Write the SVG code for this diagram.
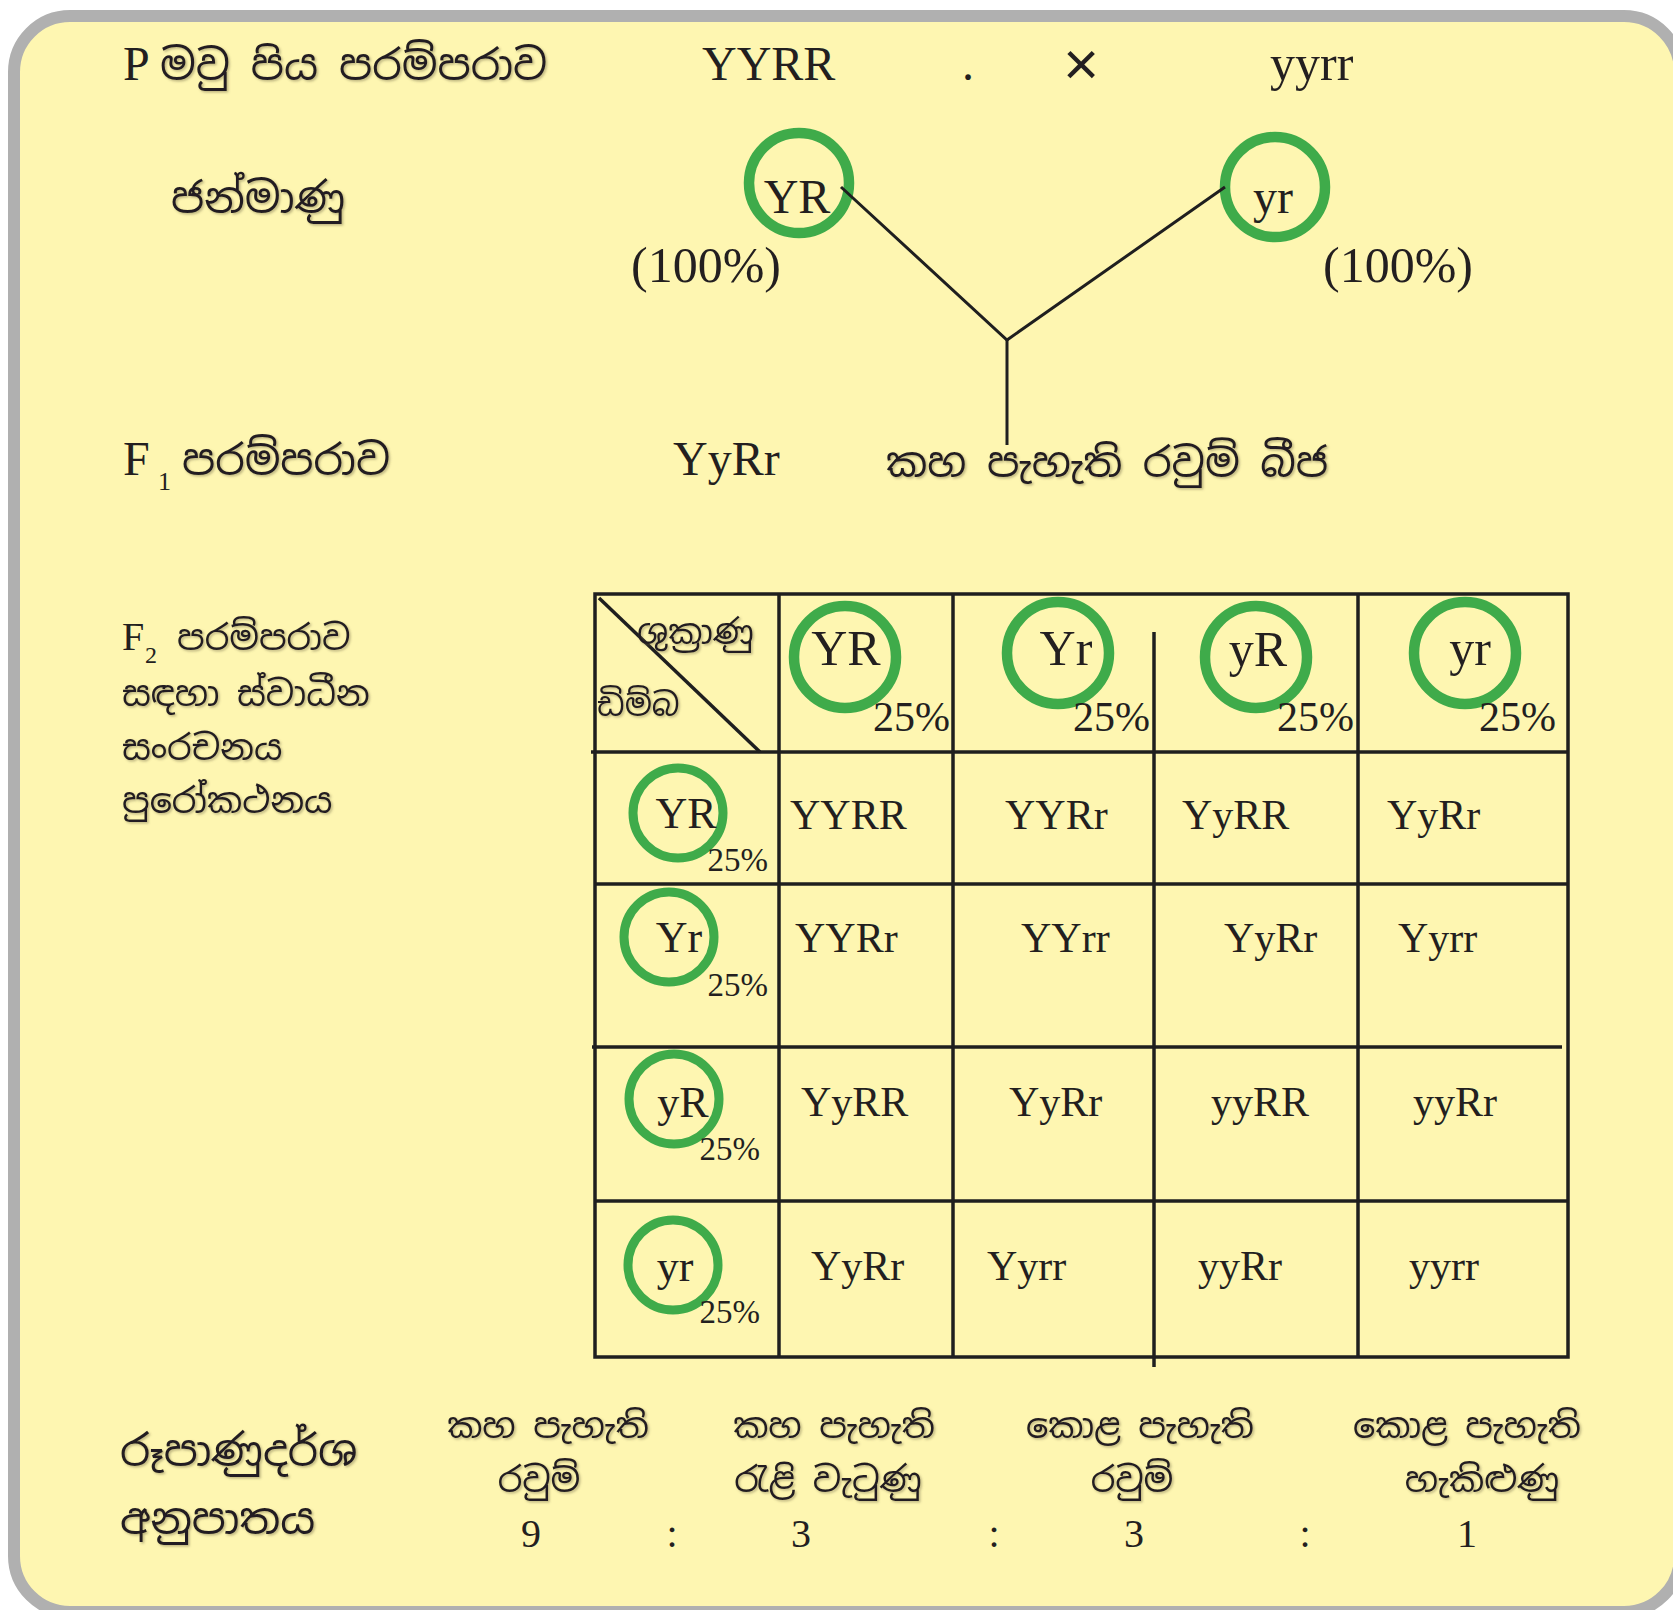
<svg xmlns="http://www.w3.org/2000/svg" width="1673" height="1610" viewBox="0 0 1673 1610">
<defs>
<filter id="sh" x="-5%" y="-20%" width="110%" height="140%">
<feDropShadow dx="1.5" dy="1.5" stdDeviation="0.8" flood-color="#6b6440" flood-opacity="0.45"/>
</filter>
</defs>
<style>
.lat{font-family:"Liberation Serif","Times New Roman",serif;fill:#231f20}
.sin{font-family:"Noto Sans Sinhala","Noto Serif Sinhala","Iskoola Pota","Noto Sans",sans-serif;fill:#231f20;filter:url(#sh)}
.sym{font-family:"Liberation Sans","DejaVu Sans",sans-serif;fill:#231f20}
.ring{fill:none;stroke:#3fab4a;stroke-width:10.5}
.ring2{fill:none;stroke:#3fab4a;stroke-width:9}
.grid{stroke:#1f1f1f;stroke-width:3.5;fill:none}
.wire{stroke:#1f1f1f;stroke-width:3;fill:none}
.g48{font-size:48px}
.g50{font-size:50px}
.g42{font-size:42px}
.s42{font-size:42px}
.s35{font-size:35px}
.pc{font-size:42px;text-anchor:end}
.pcs{font-size:33px;text-anchor:end}
.mid{text-anchor:middle}
.num{font-size:40px;text-anchor:middle}
</style>
<rect width="1673" height="1610" fill="#ffffff"/>
<rect x="14" y="16" width="1666" height="1596" rx="56" fill="#fef6b1" stroke="#b0b0b0" stroke-width="12"/>

<g id="p-generation">
<text class="lat g48" x="123" y="80">P</text>
<text class="sin s42" x="160" y="80">මවු පිය පරම්පරාව</text>
<text class="lat g48" x="702" y="80">YYRR</text>
<text class="lat g48" x="962" y="80">.</text>
<text class="sym mid" x="1081" y="85" font-size="62">×</text>
<text class="lat g50" x="1270" y="80">yyrr</text>
</g>

<g id="gametes-label">
<text class="sin s42" x="171" y="213">ජන්මාණු</text>
</g>
<g id="gamete-YR">
<circle class="ring" cx="799" cy="183" r="50"/>
<text class="lat g48 mid" x="797" y="213">YR</text>
<text class="lat g50" x="631" y="282">(100%)</text>
</g>
<g id="gamete-yr">
<circle class="ring" cx="1275" cy="187" r="50"/>
<text class="lat g48 mid" x="1273" y="213">yr</text>
<text class="lat g50" x="1323" y="282">(100%)</text>
</g>

<g id="connectors">
<polyline class="wire" points="841,187 1007,340 1225,187"/>
<line class="wire" x1="1007" y1="340" x2="1007" y2="445"/>
</g>

<g id="f1-generation">
<text class="lat g48" x="123" y="475">F</text>
<text class="lat" x="158" y="490" font-size="26">1</text>
<text class="sin s42" x="182" y="475">පරම්පරාව</text>
<text class="lat g48" x="673" y="475">YyRr</text>
<text class="sin" x="886" y="477" font-size="41">කහ පැහැති රවුම් බීජ</text>
</g>

<g id="f2-label">
<text class="lat" x="122" y="650" font-size="40">F</text>
<text class="lat" x="145" y="663" font-size="24">2</text>
<text class="sin s35" x="177" y="650">පරම්පරාව</text>
<text class="sin s35" x="122" y="706">සඳහා ස්වාධීන</text>
<text class="sin s35" x="122" y="760">සංරචනය</text>
<text class="sin s35" x="122" y="813">පුරෝකථනය</text>
</g>

<g id="punnett-grid">
<rect class="grid" x="595" y="594" width="973" height="763"/>
<line class="grid" x1="591" y1="752" x2="1568" y2="752"/>
<line class="grid" x1="595" y1="884" x2="1568" y2="884"/>
<line class="grid" x1="592" y1="1047" x2="1562" y2="1047"/>
<line class="grid" x1="595" y1="1201" x2="1568" y2="1201"/>
<line class="grid" x1="779" y1="594" x2="779" y2="1357"/>
<line class="grid" x1="953" y1="594" x2="953" y2="1357"/>
<line class="grid" x1="1154" y1="632" x2="1154" y2="1367"/>
<line class="grid" x1="1358" y1="594" x2="1358" y2="1357"/>
<line class="grid" x1="599" y1="598" x2="760" y2="752"/>
</g>

<g id="corner-labels">
<text class="sin" x="637" y="644" font-size="34">ශුක්‍රාණු</text>
<text class="sin" x="597" y="716" font-size="32">ඩිම්බ</text>
</g>

<g id="sperm-YR">
<circle class="ring" cx="845" cy="657" r="51"/>
<text class="lat mid" x="846" y="665" font-size="50">YR</text>
<text class="lat pc" x="950" y="731">25%</text>
</g>
<g id="sperm-Yr">
<circle class="ring" cx="1058" cy="653" r="51"/>
<text class="lat mid" x="1066" y="665" font-size="50">Yr</text>
<text class="lat pc" x="1150" y="731">25%</text>
</g>
<g id="sperm-yR">
<circle class="ring" cx="1256" cy="657" r="51"/>
<text class="lat mid" x="1258" y="666" font-size="50">yR</text>
<text class="lat pc" x="1354" y="731">25%</text>
</g>
<g id="sperm-yr">
<circle class="ring" cx="1465" cy="653" r="51"/>
<text class="lat mid" x="1470" y="665" font-size="50">yr</text>
<text class="lat pc" x="1556" y="731">25%</text>
</g>

<g id="egg-YR">
<circle class="ring2" cx="678" cy="813" r="45"/>
<text class="lat mid" x="686" y="828" font-size="44">YR</text>
<text class="lat pcs" x="768" y="871">25%</text>
</g>
<g id="egg-Yr">
<circle class="ring2" cx="669" cy="937" r="45"/>
<text class="lat mid" x="679" y="952" font-size="44">Yr</text>
<text class="lat pcs" x="768" y="996">25%</text>
</g>
<g id="egg-yR">
<circle class="ring2" cx="674" cy="1099" r="45"/>
<text class="lat mid" x="683" y="1117" font-size="44">yR</text>
<text class="lat pcs" x="760" y="1160">25%</text>
</g>
<g id="egg-yr">
<circle class="ring2" cx="673" cy="1265" r="45"/>
<text class="lat mid" x="675" y="1281" font-size="44">yr</text>
<text class="lat pcs" x="760" y="1323">25%</text>
</g>

<g id="offspring">
<text class="lat g42" x="790" y="829">YYRR</text>
<text class="lat g42" x="1005" y="829">YYRr</text>
<text class="lat g42" x="1182" y="829">YyRR</text>
<text class="lat g42" x="1387" y="829">YyRr</text>
<text class="lat g42" x="795" y="952">YYRr</text>
<text class="lat g42" x="1021" y="952">YYrr</text>
<text class="lat g42" x="1224" y="952">YyRr</text>
<text class="lat g42" x="1398" y="952">Yyrr</text>
<text class="lat g42" x="801" y="1116">YyRR</text>
<text class="lat g42" x="1009" y="1116">YyRr</text>
<text class="lat g42" x="1211" y="1116">yyRR</text>
<text class="lat g42" x="1413" y="1116">yyRr</text>
<text class="lat g42" x="811" y="1280">YyRr</text>
<text class="lat g42" x="987" y="1280">Yyrr</text>
<text class="lat g42" x="1198" y="1280">yyRr</text>
<text class="lat g42" x="1409" y="1280">yyrr</text>
</g>

<g id="ratio-label">
<text class="sin" x="120" y="1466" font-size="43">රූපාණුදර්ශ</text>
<text class="sin" x="120" y="1534" font-size="43">අනුපාතය</text>
</g>
<g id="ratio-round-yellow">
<text class="sin s35 mid" x="548" y="1438">කහ පැහැති</text>
<text class="sin s35 mid" x="539" y="1492">රවුම්</text>
<text class="lat num" x="531" y="1547">9</text>
</g>
<g id="ratio-wrinkled-yellow">
<text class="sin s35 mid" x="834" y="1438">කහ පැහැති</text>
<text class="sin s35 mid" x="828" y="1492">රැළි වැටුණු</text>
<text class="lat num" x="801" y="1547">3</text>
</g>
<g id="ratio-round-green">
<text class="sin s35 mid" x="1140" y="1438">කොළ පැහැති</text>
<text class="sin s35 mid" x="1132" y="1492">රවුම්</text>
<text class="lat num" x="1134" y="1547">3</text>
</g>
<g id="ratio-wrinkled-green">
<text class="sin s35 mid" x="1467" y="1438">කොළ පැහැති</text>
<text class="sin s35 mid" x="1482" y="1492">හැකිළුණු</text>
<text class="lat num" x="1467" y="1547">1</text>
</g>
<g id="ratio-colons">
<text class="lat num" x="672" y="1547">:</text>
<text class="lat num" x="994" y="1547">:</text>
<text class="lat num" x="1305" y="1547">:</text>
</g>
</svg>
